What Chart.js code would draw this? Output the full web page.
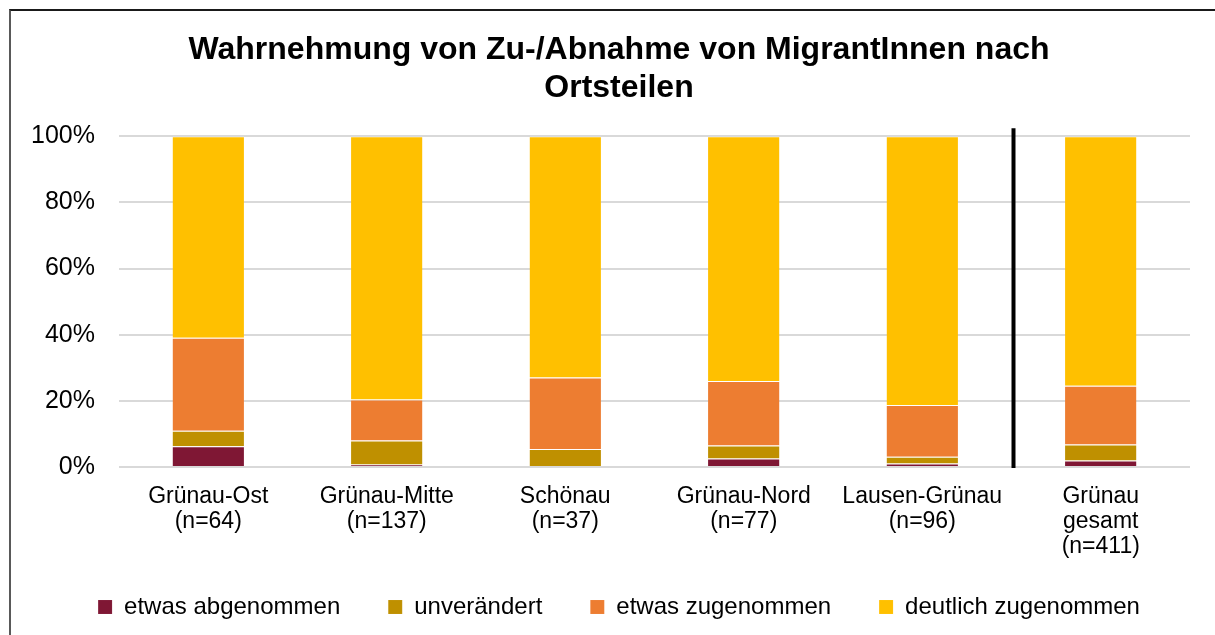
<!DOCTYPE html>
<html>
<head>
<meta charset="utf-8">
<script src="https://cdn.jsdelivr.net/npm/chart.js@4/dist/chart.umd.min.js"></script>
<style>
  html, body { margin: 0; padding: 0; background: #fff; }
  #frame { position: absolute; left: 9px; top: 9px; width: 1300px; height: 700px;
           border-left: 2px solid #595959; border-top: 2px solid #1a1a1a; }
  #wrap { position: absolute; left: 0; top: 0; width: 1215px; height: 635px; }
</style>
</head>
<body>
<div id="frame"></div>
<div id="wrap"><canvas id="c" width="1215" height="635"></canvas></div>
<script>
const categories = [
  ["Grünau-Ost", "(n=64)"],
  ["Grünau-Mitte", "(n=137)"],
  ["Schönau", "(n=37)"],
  ["Grünau-Nord", "(n=77)"],
  ["Lausen-Grünau", "(n=96)"],
  ["Grünau", "gesamt", "(n=411)"]
];
const seriesNames = ["etwas abgenommen", "unverändert", "etwas zugenommen", "deutlich zugenommen"];
const etwasAbgenommen   = [6.25, 0.73, 0.00, 2.60, 1.04, 1.95];
const unveraendert      = [4.69, 7.30, 5.41, 3.90, 2.08, 4.87];
const etwasZugenommen   = [28.13, 12.41, 21.62, 19.48, 15.63, 17.76];
const deutlichZugenommen = [60.94, 79.56, 72.97, 74.03, 81.25, 75.43];
const yTicks = [0, 20, 40, 60, 80, 100];
const titleLines = ["Wahrnehmung von Zu-/Abnahme von MigrantInnen nach", "Ortsteilen"];

const colors = ["#7F1734", "#BF9000", "#ED7D31", "#FFC000"];
const values = [etwasAbgenommen, unveraendert, etwasZugenommen, deutlichZugenommen];
const FONT = "'Liberation Sans', Arial, sans-serif";

const separatorPlugin = {
  id: "separator",
  afterDatasetsDraw(chart) {
    const x = chart.scales.x, y = chart.scales.y;
    const px = (x.getPixelForValue(4) + x.getPixelForValue(5)) / 2 + 2;
    const ctx = chart.ctx;
    ctx.save();
    ctx.strokeStyle = "#000";
    ctx.lineWidth = 4;
    ctx.beginPath();
    ctx.moveTo(px, y.getPixelForValue(100) - 8);
    ctx.lineTo(px, y.getPixelForValue(0) + 1);
    ctx.stroke();
    ctx.restore();
  }
};

new Chart(document.getElementById("c"), {
  type: "bar",
  data: {
    labels: categories,
    datasets: seriesNames.map((name, i) => ({
      label: name,
      data: values[i],
      backgroundColor: colors[i],
      borderColor: "rgba(255,255,255,0.3)",
      borderWidth: { top: 1, left: 0, right: 0, bottom: 0 },
      barPercentage: 0.4,
      categoryPercentage: 1.0
    }))
  },
  options: {
    responsive: false,
    animation: false,
    devicePixelRatio: 1,
    layout: { padding: { left: 48, right: 25, top: 0, bottom: 6 } },
    plugins: {
      tooltip: { enabled: false },
      title: {
        display: true,
        text: titleLines,
        color: "#000",
        font: { family: FONT, size: 32, weight: "bold", lineHeight: 1.16 },
        padding: { top: 32, bottom: 30 }
      },
      legend: {
        position: "bottom",
        labels: {
          color: "#000",
          font: { family: FONT, size: 24 },
          boxWidth: 14,
          boxHeight: 14,
          padding: 48
        }
      }
    },
    scales: {
      x: {
        stacked: true,
        afterFit(scale) {
          scale.height = scale.height - 29;
          scale._computeLabelArea = () => undefined;
        },
        grid: { display: false, drawTicks: false },
        border: { display: false },
        ticks: {
          color: "#000",
          font: { family: FONT, size: 23, lineHeight: 1.087 },
          padding: 17,
          maxRotation: 0,
          autoSkip: false
        }
      },
      y: {
        stacked: true,
        min: 0,
        max: 100,
        afterFit(scale) {
          scale.width = 71;
          scale._computeLabelArea = () => undefined;
        },
        afterBuildTicks(scale) { scale.ticks = yTicks.map(v => ({ value: v })); },
        grid: { color: "#D9D9D9", lineWidth: 2, drawTicks: false },
        border: { display: false },
        ticks: {
          color: "#000",
          font: { family: FONT, size: 25 },
          padding: 24,
          callback: v => v + "%"
        }
      }
    }
  },
  plugins: [separatorPlugin]
});
</script>
</body>
</html>
